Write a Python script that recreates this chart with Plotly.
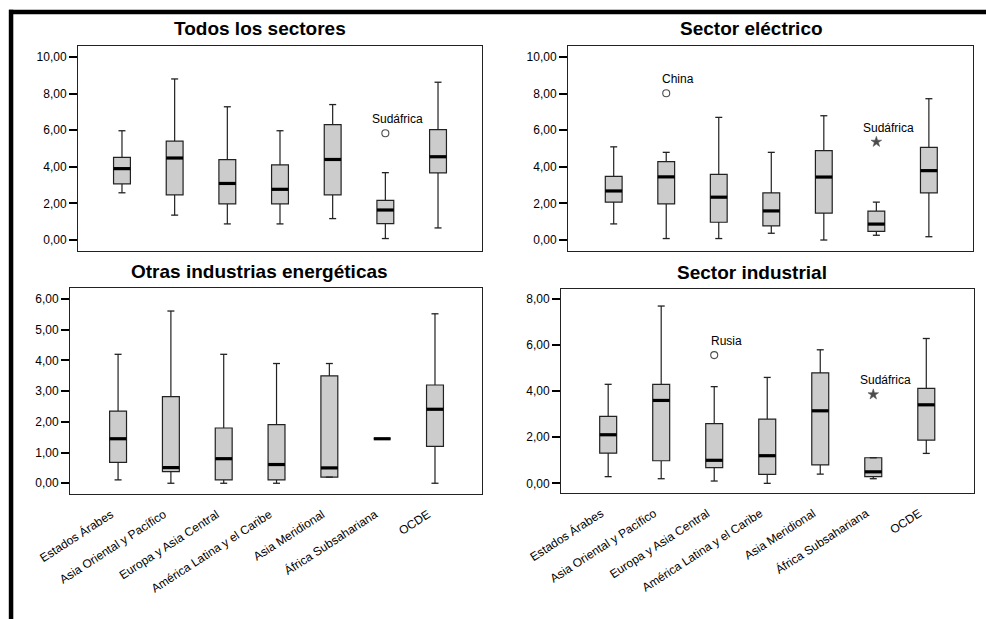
import plotly.graph_objects as go

W, H = 986, 619

categorias = ["Estados Árabes", "Asia Oriental y Pacífico", "Europa y Asia Central",
              "América Latina y el Caribe", "Asia Meridional", "África Subsahariana", "OCDE"]

# Todos los sectores
todos_min = [2.58, 1.36, 0.88, 0.88, 1.17, 0.08, 0.66]
todos_q1 = [3.07, 2.47, 1.97, 1.98, 2.47, 0.90, 3.67]
todos_med = [3.90, 4.48, 3.09, 2.77, 4.40, 1.64, 4.55]
todos_q3 = [4.51, 5.40, 4.39, 4.10, 6.30, 2.17, 6.03]
todos_max = [5.97, 8.80, 7.28, 5.97, 7.40, 3.68, 8.62]
todos_atip_cat = ["África Subsahariana"]
todos_atip_val = [5.83]
todos_atip_txt = ["Sudáfrica"]
todos_atip_sim = ["circle-open"]

# Sector eléctrico
elec_min = [0.88, 0.08, 0.08, 0.37, 0.00, 0.26, 0.18]
elec_q1 = [2.07, 1.97, 0.97, 0.77, 1.47, 0.47, 2.58]
elec_med = [2.68, 3.45, 2.34, 1.59, 3.44, 0.87, 3.79]
elec_q3 = [3.48, 4.28, 3.59, 2.58, 4.88, 1.58, 5.06]
elec_max = [5.09, 4.79, 6.70, 4.79, 6.79, 2.07, 7.72]
elec_atip_cat = ["Asia Oriental y Pacífico", "África Subsahariana"]
elec_atip_val = [8.02, 5.36]
elec_atip_txt = ["China", "Sudáfrica"]
elec_atip_sim = ["circle-open", "star"]

# Otras industrias energéticas
otras_min = [0.11, 0.00, 0.00, 0.00, 0.20, 1.45, 0.00]
otras_q1 = [0.68, 0.38, 0.11, 0.11, 0.20, 1.45, 1.20]
otras_med = [1.45, 0.51, 0.80, 0.61, 0.50, 1.45, 2.41]
otras_q3 = [2.35, 2.82, 1.80, 1.91, 3.50, 1.45, 3.20]
otras_max = [4.20, 5.61, 4.20, 3.90, 3.90, 1.45, 5.52]
otras_atip_cat = []
otras_atip_val = []
otras_atip_txt = []
otras_atip_sim = []

# Sector industrial
ind_min = [0.29, 0.20, 0.10, 0.00, 0.40, 0.20, 1.30]
ind_q1 = [1.31, 0.98, 0.68, 0.39, 0.80, 0.29, 1.88]
ind_med = [2.11, 3.60, 1.00, 1.20, 3.15, 0.50, 3.41]
ind_q3 = [2.91, 4.30, 2.59, 2.79, 4.80, 1.11, 4.12]
ind_max = [4.30, 7.70, 4.20, 4.60, 5.80, 1.11, 6.29]
ind_atip_cat = ["Europa y Asia Central", "África Subsahariana"]
ind_atip_val = [5.57, 3.86]
ind_atip_txt = ["Rusia", "Sudáfrica"]
ind_atip_sim = ["circle-open", "star"]

titulos = ["Todos los sectores", "Sector eléctrico",
           "Otras industrias energéticas", "Sector industrial"]

ticks_todos = [0, 2, 4, 6, 8, 10]
ticks_elec = [0, 2, 4, 6, 8, 10]
ticks_otras = [0, 1, 2, 3, 4, 5, 6]
ticks_ind = [0, 2, 4, 6, 8]

paneles = [
    dict(mn=todos_min, q1=todos_q1, med=todos_med, q3=todos_q3, mx=todos_max,
         acat=todos_atip_cat, aval=todos_atip_val, atxt=todos_atip_txt, asim=todos_atip_sim,
         ticks=ticks_todos),
    dict(mn=elec_min, q1=elec_q1, med=elec_med, q3=elec_q3, mx=elec_max,
         acat=elec_atip_cat, aval=elec_atip_val, atxt=elec_atip_txt, asim=elec_atip_sim,
         ticks=ticks_elec),
    dict(mn=otras_min, q1=otras_q1, med=otras_med, q3=otras_q3, mx=otras_max,
         acat=otras_atip_cat, aval=otras_atip_val, atxt=otras_atip_txt, asim=otras_atip_sim,
         ticks=ticks_otras),
    dict(mn=ind_min, q1=ind_q1, med=ind_med, q3=ind_q3, mx=ind_max,
         acat=ind_atip_cat, aval=ind_atip_val, atxt=ind_atip_txt, asim=ind_atip_sim,
         ticks=ticks_ind),
]

# layout geometry in pixels: plot-area box (left, top, right, bottom), x range, y range
geom = [
    dict(box=(78, 46, 482, 251), xr=(-0.835, 6.835), yr=(-0.60, 10.60), lab=37),
    dict(box=(568, 46, 973, 251), xr=(-0.87, 6.84), yr=(-0.60, 10.60), lab=530),
    dict(box=(70, 288, 482, 494), xr=(-0.91, 6.89), yr=(-0.35, 6.36), lab=37),
    dict(box=(561, 289, 974, 493), xr=(-0.89, 6.90), yr=(-0.42, 8.44), lab=530),
]

FONT = "Arial, 'Liberation Sans', sans-serif"
EDGE = "#222222"
FILL = "#cccccc"

fig = go.Figure()
annotations = []

for i, (p, g) in enumerate(zip(paneles, geom)):
    n = "" if i == 0 else str(i + 1)
    xa, ya = "x" + n, "y" + n

    fig.add_trace(go.Box(
        x=categorias, q1=p["q1"], median=p["med"], q3=p["q3"],
        lowerfence=p["mn"], upperfence=p["mx"],
        width=0.32, whiskerwidth=0, boxpoints=False,
        fillcolor=FILL, line=dict(color=EDGE, width=1.2),
        showlegend=False, hoverinfo="skip", xaxis=xa, yaxis=ya,
    ))
    # whisker caps
    fig.add_trace(go.Scatter(
        x=categorias + categorias, y=p["mn"] + p["mx"], mode="markers",
        marker=dict(symbol="line-ew", size=5, line=dict(color=EDGE, width=1.3)),
        showlegend=False, hoverinfo="skip", xaxis=xa, yaxis=ya,
    ))
    # medians
    fig.add_trace(go.Scatter(
        x=categorias, y=p["med"], mode="markers",
        marker=dict(symbol="line-ew", size=12, line=dict(color="black", width=3.2)),
        showlegend=False, hoverinfo="skip", xaxis=xa, yaxis=ya,
    ))
    # outliers (circles) and extremes (stars)
    if p["acat"]:
        es_circulo = [s.startswith("circle") for s in p["asim"]]
        fig.add_trace(go.Scatter(
            x=p["acat"], y=p["aval"], mode="markers",
            marker=dict(symbol=p["asim"],
                        size=[7 if c else 8 for c in es_circulo],
                        color="black",
                        line=dict(color="black", width=[1.1 if c else 0.5 for c in es_circulo])),
            showlegend=False, hoverinfo="skip", xaxis=xa, yaxis=ya,
        ))
        for c, v, t in zip(p["acat"], p["aval"], p["atxt"]):
            annotations.append(dict(
                x=c, y=v, xref=xa, yref=ya, text=t, showarrow=False,
                xanchor="center", yanchor="bottom", xshift=12, yshift=5,
                font=dict(family=FONT, size=12, color="black"),
            ))

    l, t, r, b = g["box"]
    bottom_row = i >= 2
    fig.layout["xaxis" + n] = dict(
        domain=[l / W, r / W], anchor=ya, type="category",
        categoryorder="array", categoryarray=categorias,
        range=list(g["xr"]), showgrid=False, zeroline=False, automargin=False,
        showline=True, mirror=True, linecolor=EDGE, linewidth=1,
        ticks="", showticklabels=bottom_row, tickangle=-33,
        ticklabelstandoff=8, ticklabelshift=-7,
        tickfont=dict(family=FONT, size=12, color="black"),
    )
    fig.layout["yaxis" + n] = dict(
        domain=[1 - b / H, 1 - t / H], anchor=xa, automargin=False,
        range=list(g["yr"]), showgrid=False, zeroline=False,
        showline=True, mirror=True, linecolor=EDGE, linewidth=1,
        tickvals=p["ticks"], tickformat=".2f",
        ticks="outside", ticklen=8, tickwidth=1.5, tickcolor="black",
        tickfont=dict(family=FONT, size=12, color="black"),
    )
    annotations.append(dict(
        x=((g["lab"] + r) / 2) / W, y=1 - ((t - 17) / H), xref="paper", yref="paper",
        text="<b>" + titulos[i] + "</b>", showarrow=False,
        xanchor="center", yanchor="middle",
        font=dict(family=FONT, size=19, color="black"),
    ))

# heavy frame along the top and left edges
shapes = [
    dict(type="rect", xref="paper", yref="paper", x0=9 / W, x1=1.0,
         y0=1 - 14.3 / H, y1=1 - 9.8 / H, fillcolor="black", line=dict(width=0)),
    dict(type="rect", xref="paper", yref="paper", x0=8.8 / W, x1=13.3 / W,
         y0=0, y1=1 - 9.8 / H, fillcolor="black", line=dict(width=0)),
]

fig.update_layout(
    width=W, height=H, margin=dict(l=0, r=0, t=0, b=0, autoexpand=False),
    paper_bgcolor="white", plot_bgcolor="white",
    separators=",.", annotations=annotations, shapes=shapes,
    font=dict(family=FONT, size=12, color="black"),
)

fig.write_html("out.html")
